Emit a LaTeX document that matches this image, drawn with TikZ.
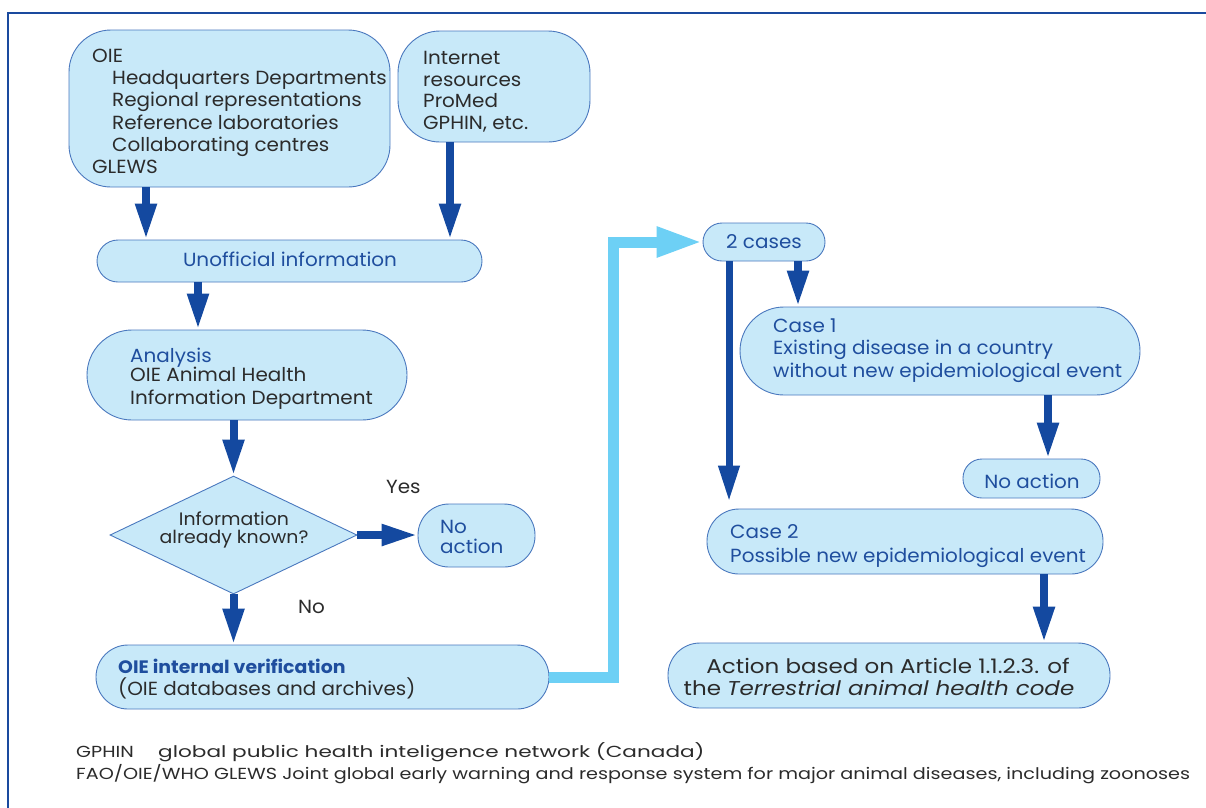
\documentclass[tikz,border=0pt]{standalone}
\usepackage{fontspec}
\setmainfont{Poppins}[FakeStretch=1.05]
\newfontfamily\fnfont{Poppins}[FakeStretch=1.2]
\newfontfamily\fnwidefont{Poppins}[FakeStretch=1.35]
\newfontfamily\actfont{Poppins}[FakeStretch=1.15]
\usetikzlibrary{arrows.meta,shapes.geometric}
\definecolor{boxfill}{HTML}{C8E9F9}
\definecolor{boxline}{HTML}{4A78BE}
\definecolor{darkarrow}{HTML}{1449A0}
\definecolor{lightarrow}{HTML}{6DD0F5}
\definecolor{bluetext}{HTML}{1F4E9E}
\definecolor{greytext}{HTML}{2B2B2B}
\definecolor{frameblue}{HTML}{1A4A9E}
\begin{document}
\begin{tikzpicture}[x=1pt,y=-1pt,
  box/.style={draw=boxline, fill=boxfill, line width=0.9pt, inner sep=0pt},
  t/.style={anchor=base west, inner sep=0pt, font=\fontsize{19}{22}\selectfont, text=greytext},
  tb/.style={t, text=bluetext},
  tc/.style={t, anchor=base},
  fn/.style={t, font=\fnfont\fontsize{16}{18}\selectfont},
  arr/.style={draw=darkarrow, line width=8pt, -{Triangle[length=36pt,width=20pt]}},
  lightarr/.style={draw=lightarrow, line width=11pt, line join=miter, -{Triangle[length=46pt,width=28pt]}},
]
\useasboundingbox (0,0) rectangle (1206,807);
\draw[frameblue, line width=2.5pt] (8,808) -- (8,13) -- (1207,13);

% boxes
\node[box, minimum width=321pt, minimum height=157pt, rounded corners=42pt] (oie) at (229.5,108.5) {};
\node[box, minimum width=192pt, minimum height=111pt, rounded corners=42pt] (inet) at (494,86.5) {};
\node[box, minimum width=385pt, minimum height=42pt, rounded corners=21pt] (unof) at (289.5,261) {};
\node[box, minimum width=320pt, minimum height=90pt, rounded corners=45pt] (anal) at (247,375) {};
\node[box, diamond, aspect=2.09, minimum width=247pt, minimum height=118pt] (dia) at (233.5,535) {};
\node[box, minimum width=117pt, minimum height=63pt, rounded corners=31pt] (na1) at (476.5,535.5) {};
\node[box, minimum width=453pt, minimum height=64pt, rounded corners=32pt] (verif) at (322.5,677) {};
\node[box, minimum width=122pt, minimum height=38pt, rounded corners=19pt] (two) at (764,242) {};
\node[box, minimum width=400pt, minimum height=88pt, rounded corners=44pt] (case1) at (940,351) {};
\node[box, minimum width=137pt, minimum height=39pt, rounded corners=19pt] (na2) at (1031.5,478.5) {};
\node[box, minimum width=396pt, minimum height=65pt, rounded corners=32pt] (case2) at (905,541.5) {};
\node[box, minimum width=442pt, minimum height=65pt, rounded corners=32pt] (act) at (889,675.5) {};

% texts
\node[t] (o1) at (92,62) {OIE};
\node[t] (o2) at (112,84) {Headquarters Departments};
\node[t] (o3) at (112,106) {Regional representations};
\node[t] (o4) at (112,129) {Reference laboratories};
\node[t] (o5) at (112,151) {Collaborating centres};
\node[t] (o6) at (92,173) {GLEWS};
\node[t] (i1) at (423,64) {Internet};
\node[t] (i2) at (423,86) {resources};
\node[t] (i3) at (423,107) {ProMed};
\node[t] (i4) at (423,129) {GPHIN, etc.};
\node[tc, text=bluetext] (u1) at (290,266) {Unofficial information};
\node[tb] (a1) at (130,362) {Analysis};
\node[t] (a2) at (130,381) {OIE Animal Health};
\node[t] (a3) at (130,404) {Information Department};
\node[tc, font=\fontsize{18}{22}\selectfont] (d1) at (234,525) {Information};
\node[tc, font=\fontsize{18}{22}\selectfont] (d2) at (234,543) {already known?};
\node[t] (yes) at (386,493) {Yes};
\node[t] (no) at (298,613) {No};
\node[tb] (n1) at (440,533) {No};
\node[tb] (n2) at (440,553) {action};
\node[tb, font=\fontsize{18}{22}\selectfont\bfseries] (v1) at (118,673) {OIE internal verification};
\node[t] (v2) at (118,695) {(OIE databases and archives)};
\node[tc, text=bluetext] (c0) at (764,248) {2 cases};
\node[tb] (c11) at (773,332) {Case 1};
\node[tb] (c12) at (773,354) {Existing disease in a country};
\node[tb] (c13) at (773,377) {without new epidemiological event};
\node[tc, text=bluetext] (nn) at (1032,488) {No action};
\node[tb] (c21) at (730,538) {Case 2};
\node[tb] (c22) at (730,562) {Possible new epidemiological event};
\node[tc, font=\actfont\fontsize{20}{22}\selectfont] (ac1) at (888,673) {Action based on Article 1.1.2.3. of};
\node[tc, font=\actfont\fontsize{20}{22}\selectfont] (ac2) at (879,695) {the \textit{Terrestrial animal health code}};
\node[fn] (f1) at (76,757) {GPHIN};
\node[fn, font=\fnwidefont\fontsize{16}{18}\selectfont] (f1b) at (158,757) {global public health inteligence network (Canada)};
\node[fn] (f2) at (76,779) {FAO/OIE/WHO GLEWS Joint global early warning and response system for major animal diseases, including zoonoses};

% connectors
\draw[arr] ([xshift=-83.5pt]oie.south) -- ([xshift=-143.5pt]unof.north);
\draw[arr] ([xshift=-44pt]inet.south) -- ([xshift=160.5pt]unof.north);
\draw[arr] ([xshift=-91.5pt]unof.south) -- ([xshift=-49pt]anal.north);
\draw[arr] ([xshift=-13.5pt]anal.south) -- (dia.north);
\draw[arr] (dia.south) -- ([xshift=-89pt]verif.north);
\draw[arr] (dia.east) -- (dia.east -| na1.west);
\draw[lightarr] (verif.east) -- ++(64,0) |- (two.west);
\draw[arr] ([xshift=34pt]two.south) -- ([xshift=-142pt]case1.north);
\draw[arr, line width=7pt] ([xshift=-35pt]two.south) -- ([xshift=-176pt,yshift=7pt]case2.north);
\draw[arr] ([xshift=108pt]case1.south) -- ([xshift=16.5pt]na2.north);
\draw[arr] ([xshift=139pt]case2.south) -- ([xshift=155pt]act.north);
\end{tikzpicture}
\end{document}
